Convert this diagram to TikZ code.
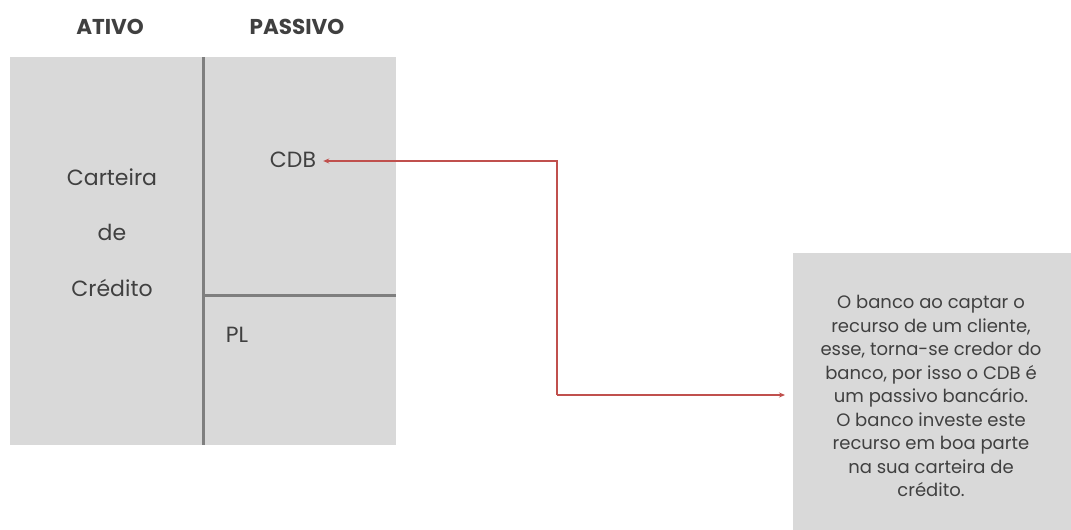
\documentclass[tikz,border=0pt]{standalone}
\usepackage{fontspec}
\setmainfont{Poppins}
\usetikzlibrary{arrows.meta}
\definecolor{panel}{HTML}{D9D9D9}
\definecolor{divider}{HTML}{7F7F7F}
\definecolor{ink}{HTML}{404040}
\definecolor{flow}{HTML}{C0504D}
\tikzset{
  px/.style={x=1pt,y=-1pt},
  head/.style={font=\fontsize{21.5}{24}\selectfont\bfseries, text=ink},
  label/.style={font=\fontsize{22}{26}\selectfont, text=ink, inner sep=0pt},
  note/.style={font=\fontsize{18}{23.5}\selectfont, text=ink, align=center, inner sep=0pt},
  rule/.style={divider, line width=3pt},
  link/.style={flow, line width=1.4pt, -{Stealth[length=6pt,width=5pt]}},
}
\begin{document}
\begin{tikzpicture}[px]
  \useasboundingbox (0,0) rectangle (1071,530);
  % balance sheet panel
  \fill[panel] (10,57) rectangle (396,445);
  \draw[rule] (203,57) -- (203,445);
  \draw[rule] (203,295) -- (396,295);
  % column headings
  \node[head] (ativo) at (110,27) {ATIVO};
  \node[head] (passivo) at (297,27) {PASSIVO};
  % asset and liability entries
  \node[label] (carteira) at (112,177) {Carteira};
  \node[label] (de) at (112,232) {de};
  \node[label] (credito) at (112,288) {Crédito};
  \node[label] (cdb) at (293,160) {CDB};
  \node[label] (pl) at (237,335) {PL};
  % explanation box
  \fill[panel] (793,253) rectangle (1071,530);
  \node[note] (texto) at (931,396) {O banco ao captar o\\recurso de um cliente,\\esse, torna-se credor do\\banco, por isso o CDB é\\um passivo bancário.\\O banco investe este\\recurso em boa parte\\na sua carteira de\\crédito.};
  % connector between CDB and the explanation
  \coordinate (bend) at (557,278);
  \draw[link] (bend |- 0,395) -- (785,395);
  \draw[link] (bend |- 0,395) -- (557,161) -- ([xshift=7pt]cdb.east |- 0,161);
\end{tikzpicture}
\end{document}
